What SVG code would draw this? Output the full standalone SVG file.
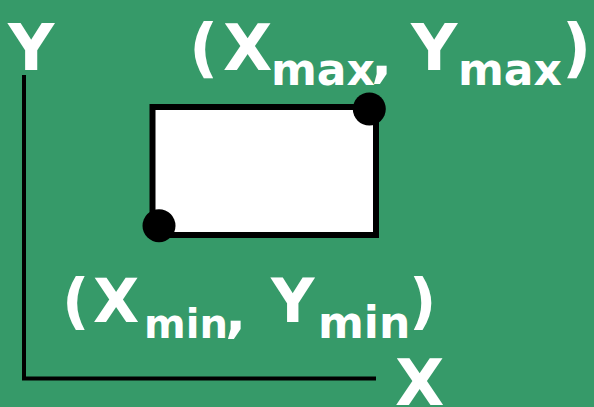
<svg xmlns="http://www.w3.org/2000/svg" width="594" height="407" viewBox="0 0 594 407">
<style>
.t{font-family:"DejaVu Sans","Liberation Sans",sans-serif;font-weight:bold;fill:#fff}
.big{font-size:64px}
.mid{font-size:60px}
.sub{font-size:44px}
.sub2{font-size:40px}
.cm{font-size:56px}
.ax{stroke:#000;stroke-width:4;fill:none}
</style>
<rect width="594" height="407" fill="#369a69"/>
<g id="axes">
<line class="ax" x1="24" y1="75" x2="24" y2="380"/>
<line class="ax" x1="22" y1="378.5" x2="376" y2="378.5"/>
</g>
<g id="rectangle">
<rect x="152.5" y="107" width="223.5" height="128" fill="#fff" stroke="#000" stroke-width="6"/>
</g>
<g id="pmax"><circle cx="369.3" cy="109" r="16.5" fill="#000"/></g>
<g id="pmin"><circle cx="159" cy="225.7" r="16.5" fill="#000"/></g>
<g id="labels">
<text class="t big" x="8" y="70">Y</text>
<text class="t big" x="395" y="405">X</text>
<text class="t big" y="70"><tspan x="189">(</tspan><tspan x="223">X</tspan><tspan class="sub" x="271" y="85">max</tspan><tspan class="cm" x="371" y="76">,</tspan><tspan x="411" y="70">Y</tspan><tspan class="sub" x="458" y="85">max</tspan><tspan x="562" y="70">)</tspan></text>
<text class="t mid" y="322"><tspan x="62">(</tspan><tspan x="93">X</tspan><tspan class="sub2" x="144" y="338">min</tspan><tspan class="cm" x="225" y="331">,</tspan><tspan x="271" y="322">Y</tspan><tspan class="sub" x="318" y="338">min</tspan><tspan x="409" y="322">)</tspan></text>
</g>
</svg>
